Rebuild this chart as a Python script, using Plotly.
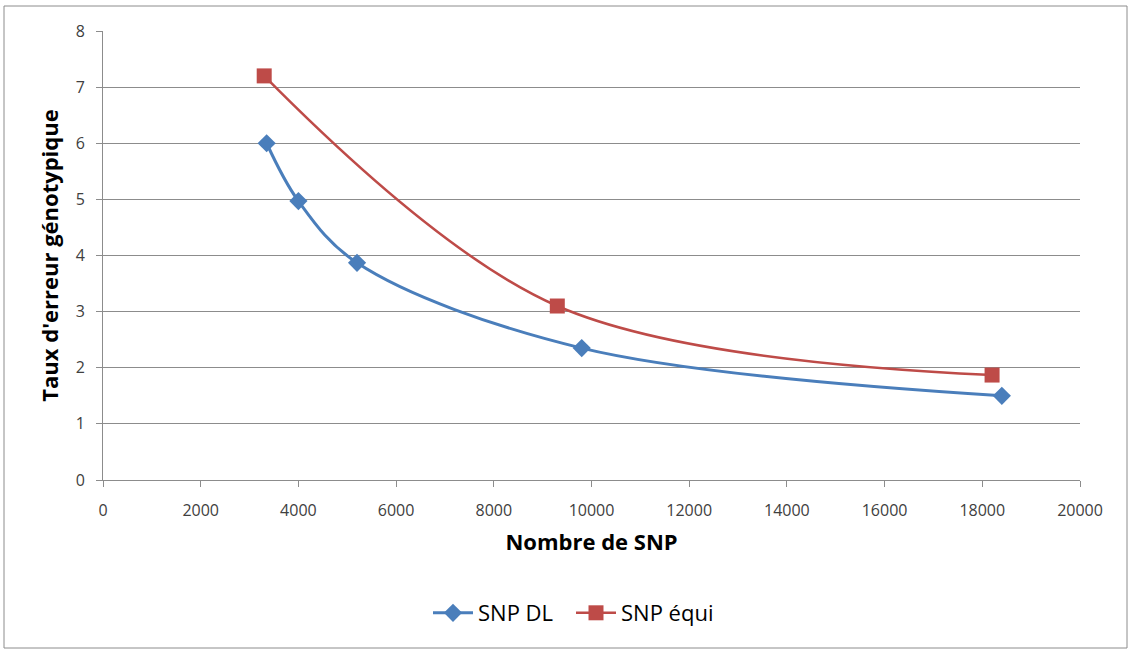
import plotly.graph_objects as go

# Genotype error rate vs. number of SNPs
snp_dl_x = [3350, 4000, 5200, 9800, 18400]
snp_dl_y = [6.0, 4.97, 3.87, 2.35, 1.5]

snp_equi_x = [3300, 9300, 18200]
snp_equi_y = [7.2, 3.1, 1.87]

W, H = 1131, 650
L, R, T, B = 103, 51, 31, 170
pw, ph = W - L - R, H - T - B

def px_x(p):
    return (p - L) / pw

def px_y(p):
    return (H - B - p) / ph

FONT = "'Open Sans', 'Noto Sans', sans-serif"

fig = go.Figure()
fig.add_trace(go.Scatter(
    x=snp_dl_x, y=snp_dl_y, name="SNP DL", mode="lines+markers",
    line=dict(color="#4A7EBB", width=3, shape="spline", smoothing=1.0),
    marker=dict(symbol="diamond", size=14, color="#4A7EBB"),
))
fig.add_trace(go.Scatter(
    x=snp_equi_x, y=snp_equi_y, name="SNP équi", mode="lines+markers",
    line=dict(color="#BE4B48", width=2.5, shape="spline", smoothing=1.0),
    marker=dict(symbol="square", size=15, color="#BE4B48"),
))

tick_font = dict(family=FONT, size=16, color="#404040")
title_font = dict(family=FONT, size=22, color="#000000")

fig.update_layout(
    width=W, height=H,
    margin=dict(l=L, r=R, t=T, b=B),
    paper_bgcolor="white", plot_bgcolor="white",
    font=tick_font,
    xaxis=dict(
        range=[0, 20000], dtick=2000, tickformat="d", showgrid=False,
        showline=True, linecolor="#8c8c8c", linewidth=1,
        ticks="outside", ticklen=6, tickcolor="#8c8c8c",
        tickfont=tick_font, ticklabelstandoff=10, zeroline=False,
        title=dict(text="<b>Nombre de SNP</b>", font=title_font, standoff=14),
    ),
    yaxis=dict(
        range=[0, 8], dtick=1, showgrid=True, gridcolor="#8c8c8c", gridwidth=1,
        showline=True, linecolor="#8c8c8c", linewidth=1,
        ticks="outside", ticklen=6, tickcolor="#8c8c8c",
        tickfont=tick_font, ticklabelstandoff=8, zeroline=False,
        title=dict(text="<b>Taux d'erreur génotypique</b>", font=title_font, standoff=10),
    ),
    legend=dict(
        orientation="h", x=px_x(571), xanchor="center", y=px_y(613), yanchor="middle",
        font=dict(family=FONT, size=22, color="#000000"),
        itemwidth=40, entrywidth=88,
    ),
    shapes=[dict(
        type="rect", xref="paper", yref="paper",
        x0=px_x(4), x1=px_x(1127), y0=px_y(648), y1=px_y(6),
        line=dict(color="#8c8c8c", width=1), fillcolor="rgba(0,0,0,0)", layer="below",
    )],
)

fig.write_html("out.html")
